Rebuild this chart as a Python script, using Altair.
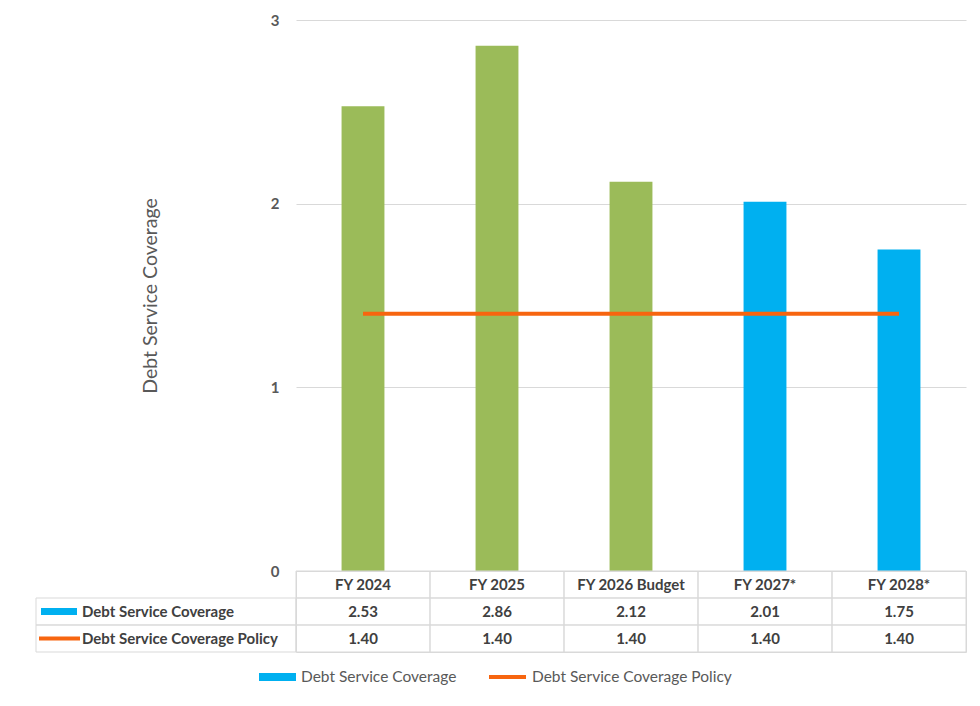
import altair as alt
import pandas as pd

# ---- data ----
categories = ["FY 2024", "FY 2025", "FY 2026 Budget", "FY 2027*", "FY 2028*"]
coverage = [2.53, 2.86, 2.12, 2.01, 1.75]
policy = [1.40, 1.40, 1.40, 1.40, 1.40]
status = ["Actual", "Actual", "Budget", "Projected", "Projected"]
series_names = ["Debt Service Coverage", "Debt Service Coverage Policy"]
y_ticks = [0, 1, 2, 3]
y_title = "Debt Service Coverage"

# ---- styles ----
GREEN = "#9BBB59"
BLUE = "#00B0F0"
ORANGE = "#F7650F"
GRID = "#D9D9D9"
TEXT = "#595959"
DARK = "#404040"
FONT = "Lato"

df = pd.DataFrame({"category": categories, "coverage": coverage,
                   "policy": policy, "status": status})

y_axis = alt.Axis(values=y_ticks, title=y_title, grid=True, gridColor=GRID,
                  domain=False, ticks=False, labelPadding=17, labelFont=FONT,
                  labelFontSize=15, labelFontWeight="bold", labelColor=TEXT,
                  titleFont=FONT, titleFontSize=19.5, titleFontWeight="normal",
                  titleColor=TEXT, titlePadding=110)
y_scale = alt.Scale(domain=[0, 3])
x_main = alt.X("category:N", sort=categories, axis=None,
               scale=alt.Scale(domain=categories, paddingInner=0.68, paddingOuter=0.34))

bars = alt.Chart(df).mark_bar().encode(
    x=x_main,
    y=alt.Y("coverage:Q", scale=y_scale, axis=y_axis),
    color=alt.Color("status:N",
                    scale=alt.Scale(domain=["Actual", "Budget", "Projected"],
                                    range=[GREEN, GREEN, BLUE]),
                    legend=None),
)
line = alt.Chart(df).mark_line(color=ORANGE, strokeWidth=4).encode(
    x=x_main,
    y=alt.Y("policy:Q", scale=y_scale, axis=y_axis),
)
main = alt.layer(bars, line).properties(
    width=670, height=551,
    view=alt.ViewBackground(strokeOpacity=0),
)

# ---- data table below the chart ----
rows = ["header"] + series_names
table_rows = []
for c, v, p in zip(categories, coverage, policy):
    table_rows.append({"category": c, "row": "header", "label": c})
    table_rows.append({"category": c, "row": series_names[0], "label": f"{v:.2f}"})
    table_rows.append({"category": c, "row": series_names[1], "label": f"{p:.2f}"})
tdf = pd.DataFrame(table_rows)
ldf = pd.DataFrame({"row": series_names})

x_tab = alt.X("category:N", sort=categories, axis=None,
              scale=alt.Scale(domain=categories, paddingInner=0, paddingOuter=0))
y_tab = alt.Y("row:N", sort=rows, axis=None,
              scale=alt.Scale(domain=rows, paddingInner=0, paddingOuter=0))

cell_box = alt.Chart(tdf).mark_rect(fill="white", fillOpacity=0, stroke=GRID,
                                    strokeWidth=1).encode(x=x_tab, y=y_tab)
cells = alt.Chart(tdf).mark_text(font=FONT, fontSize=15, fontWeight="bold",
                                 color=DARK).encode(x=x_tab, y=y_tab, text="label:N")

label_box = alt.Chart(ldf).mark_rect(fill="white", fillOpacity=0, stroke=GRID,
                                     strokeWidth=1).encode(
    x=alt.value(-260), x2=alt.value(0), y=y_tab)

swatch1 = alt.Chart(ldf).transform_filter(alt.datum.row == series_names[0]).mark_rule(
    strokeCap="butt", color=BLUE, strokeWidth=7).encode(
    x=alt.value(-255), x2=alt.value(-219), y=y_tab)
swatch2 = alt.Chart(ldf).transform_filter(alt.datum.row == series_names[1]).mark_rule(
    strokeCap="butt", color=ORANGE, strokeWidth=4).encode(
    x=alt.value(-257), x2=alt.value(-216), y=y_tab)
row_labels = alt.Chart(ldf).mark_text(align="left", font=FONT, fontSize=15,
                                      fontWeight="bold", color=DARK).encode(
    x=alt.value(-214), y=y_tab, text="row:N")

# ---- bottom legend ----
leg_y = 106
leg1_sym = alt.Chart(ldf).transform_filter(alt.datum.row == series_names[0]).mark_rule(
    color=BLUE, strokeWidth=8, strokeCap="butt").encode(
    x=alt.value(-37), x2=alt.value(0), y=alt.value(leg_y))
leg1_txt = alt.Chart(ldf).transform_filter(alt.datum.row == series_names[0]).mark_text(
    align="left", baseline="middle", font=FONT, fontSize=15.5, color=TEXT).encode(
    x=alt.value(5), y=alt.value(leg_y), text="row:N")
leg2_sym = alt.Chart(ldf).transform_filter(alt.datum.row == series_names[1]).mark_rule(
    color=ORANGE, strokeWidth=4, strokeCap="butt").encode(
    x=alt.value(193), x2=alt.value(230), y=alt.value(leg_y))
leg2_txt = alt.Chart(ldf).transform_filter(alt.datum.row == series_names[1]).mark_text(
    align="left", baseline="middle", font=FONT, fontSize=15.5, color=TEXT).encode(
    x=alt.value(236), y=alt.value(leg_y), text="row:N")

table = alt.layer(cell_box, cells, label_box, swatch1, swatch2, row_labels,
                  leg1_sym, leg1_txt, leg2_sym, leg2_txt).properties(
    width=670, height=81,
    view=alt.ViewBackground(stroke=GRID, strokeWidth=1),
)

chart = alt.vconcat(main, table, spacing=0, bounds="flush").resolve_scale(
    x="independent", y="independent", color="independent",
).properties(
    padding={"left": 27, "top": 5, "right": 5, "bottom": 5},
    background="white",
)

chart.save("out.html", embed_options={"renderer": "svg", "actions": False})
